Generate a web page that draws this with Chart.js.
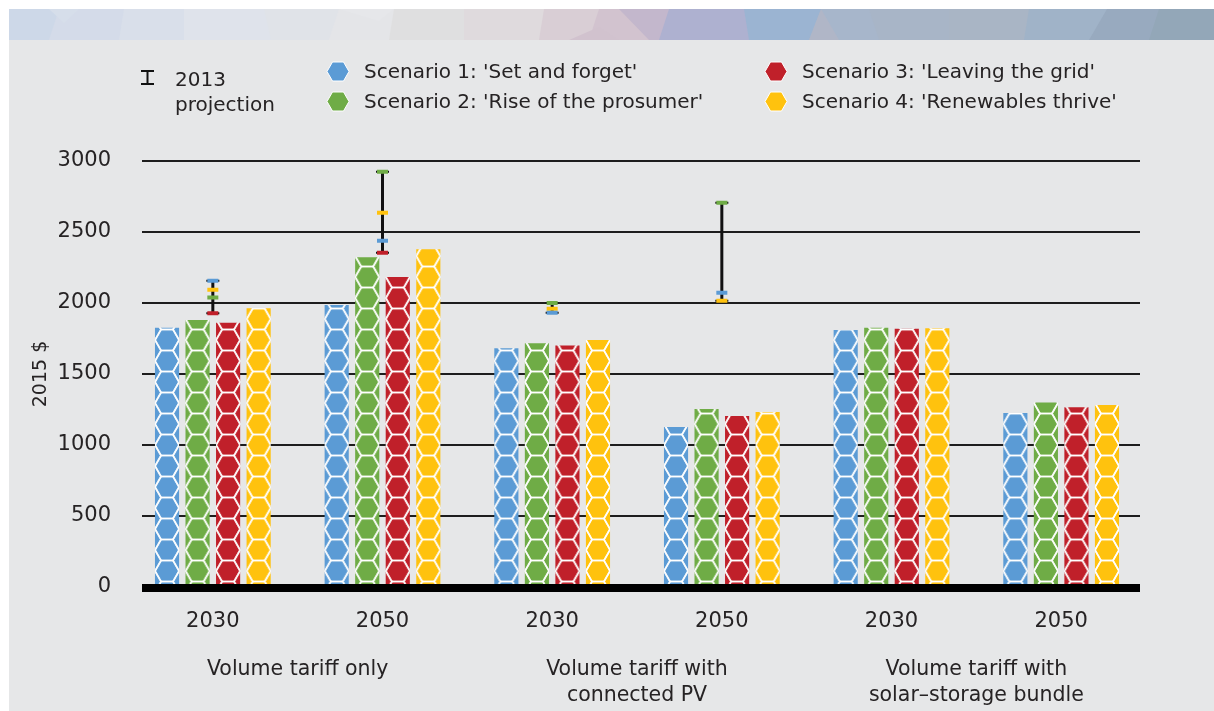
<!DOCTYPE html>
<html lang="en">
<head>
<meta charset="UTF-8">
<title>Annual bill by scenario</title>
<script src="https://cdn.jsdelivr.net/npm/chart.js"></script>
<style>
  body { margin: 0; background: #fff; font-family: "DejaVu Sans", sans-serif; color: #262324; }
  #panel { position: absolute; left: 9px; top: 9px; width: 1205px; height: 702px; background: #E6E7E8; }
  #banner { position: absolute; left: 0; top: 0; }
  #chart { position: absolute; left: 0; top: 0; }
  .lg { position: absolute; font-size: 20px; line-height: 24px; white-space: nowrap; }
  .ico { position: absolute; }
</style>
</head>
<body>
<div id="panel">
  <svg id="banner" width="1205" height="31"></svg>
</div>
<canvas id="chart" width="1214" height="711"></canvas>

<!-- legend -->
<svg class="ico" style="left:141px;top:70px" width="13" height="15">
  <rect x="0" y="0" width="13" height="2" fill="#111"/>
  <rect x="5.5" y="0" width="2" height="15" fill="#111"/>
  <rect x="0" y="13" width="13" height="2" fill="#111"/>
</svg>
<div class="lg" style="left:175px;top:67px">2013</div>
<div class="lg" style="left:175px;top:92px">projection</div>
<div id="legendItems"></div>

<script>
// categories
const years = ['2030', '2050', '2030', '2050', '2030', '2050'];
const tariffGroups = [
  ['Volume tariff only'],
  ['Volume tariff with', 'connected PV'],
  ['Volume tariff with', 'solar–storage bundle']
];

// 2015 $ per scenario
const setAndForget     = [1826, 1986, 1681, 1127, 1810, 1225];
const riseOfProsumer   = [1880, 2322, 1716, 1254, 1826, 1300];
const leavingTheGrid   = [1861, 2183, 1700, 1204, 1819, 1265];
const renewablesThrive = [1963, 2378, 1739, 1232, 1822, 1282];

// 2013 projection markers
const proj1 = [2157, 2439, 1932, 2072, null, null];
const proj2 = [2038, 2925, 2000, 2706, null, null];
const proj3 = [1927, 2354, null, null, null, null];
const proj4 = [2094, 2636, 1960, 2016, null, null];
const projLow  = [1927, 2354, 1932, 2016, null, null];
const projHigh = [2157, 2925, 2000, 2706, null, null];

const scenarioNames = [
  "Scenario 1: 'Set and forget'",
  "Scenario 2: 'Rise of the prosumer'",
  "Scenario 3: 'Leaving the grid'",
  "Scenario 4: 'Renewables thrive'"
];
const colors = ['#5B9BD5', '#6FAC46', '#C0202A', '#FFC20E'];

const CAT_PCT = 0.72;
const FONT = '"DejaVu Sans", sans-serif';
const TEXT = '#262324';

// faceted banner strip
const facets = [
  [0, 70, 55, 0, '#CDD8E8'], [50, 120, 115, 40, '#D4DBE9'], [115, 175, 175, 110, '#D9DFEA'],
  [175, 255, 262, 175, '#DFE3EB'], [255, 330, 320, 262, '#E0E3E8'], [330, 385, 380, 320, '#E4E5E8'],
  [385, 455, 455, 380, '#DFDFE0'], [455, 535, 530, 455, '#DFDADD'], [535, 610, 590, 530, '#D9CED5'],
  [590, 612, 640, 580, '#D2C3CF'], [610, 660, 650, 640, '#C3B7CC'], [660, 735, 740, 650, '#AEB1D0'],
  [735, 812, 800, 740, '#9BB4D2'], [812, 860, 870, 800, '#A7B6CB'], [860, 940, 940, 870, '#A8B5C7'],
  [940, 1020, 1015, 940, '#A9B5C5'], [1020, 1098, 1080, 1015, '#A0B3C8'], [1098, 1150, 1140, 1080, '#98AABF'],
  [1150, 1205, 1205, 1140, '#93A7B8']
];
const banner = document.getElementById('banner');
banner.innerHTML = facets.map(f =>
  `<polygon points="${f[0]},0 ${f[1] + 2},0 ${f[2] + 2},31 ${f[3]},31" fill="${f[4]}"/>`).join('') +
  '<polygon points="40,0 70,0 55,14" fill="#D6DEEA"/><polygon points="330,0 385,0 370,12" fill="#E6E7EA"/>' +
  '<polygon points="560,31 590,18 610,31" fill="#D1C2CE"/><polygon points="812,0 830,31 800,31" fill="#B0B6C7"/>';

// legend entries
function hexSvg(color) {
  return `<svg width="24" height="21"><polygon points="1,10.5 6.5,1 17.5,1 23,10.5 17.5,20 6.5,20"
    fill="${color}" stroke="#fff" stroke-width="1"/></svg>`;
}
const legendPos = [[326, 61, 364, 59], [326, 91, 364, 89], [764, 61, 802, 59], [764, 91, 802, 89]];
document.getElementById('legendItems').innerHTML = scenarioNames.map((name, i) => {
  const p = legendPos[i];
  return `<div class="ico" style="left:${p[0]}px;top:${p[1]}px">${hexSvg(colors[i])}</div>` +
         `<div class="lg" style="left:${p[2]}px;top:${p[3]}px">${name}</div>`;
}).join('');

// honeycomb tile for the bars
function hexTile(color) {
  const w = 36, h = 21, s = 12;
  const c = document.createElement('canvas');
  c.width = w; c.height = h;
  const g = c.getContext('2d');
  g.fillStyle = color;
  g.fillRect(0, 0, w, h);
  g.strokeStyle = 'rgba(255,255,255,0.95)';
  g.lineWidth = 1.6;
  const centers = [[0, 0], [36, 0], [0, 21], [36, 21], [18, 10.5], [18, -10.5], [18, 31.5]];
  for (const [cx, cy] of centers) {
    g.beginPath();
    g.moveTo(cx - s, cy);
    g.lineTo(cx - s / 2, cy - h / 2);
    g.lineTo(cx + s / 2, cy - h / 2);
    g.lineTo(cx + s, cy);
    g.lineTo(cx + s / 2, cy + h / 2);
    g.lineTo(cx - s / 2, cy + h / 2);
    g.closePath();
    g.stroke();
  }
  return c;
}
const tiles = colors.map(hexTile);

// one pattern per bar, shifted so a hexagon sits centred in the bar
function hexFill(k) {
  return ctx => {
    const xs = ctx.chart.scales && ctx.chart.scales.x;
    if (ctx.type !== 'data' || !xs) return colors[k];
    const step = xs.getPixelForValue(1) - xs.getPixelForValue(0);
    const cx = xs.getPixelForValue(ctx.dataIndex) + (k - 1.5) * step * CAT_PCT / 4;
    const pat = ctx.chart.ctx.createPattern(tiles[k], 'repeat');
    pat.setTransform(new DOMMatrix([1, 0, 0, 1, cx, 4]));
    return pat;
  };
}

const series = [setAndForget, riseOfProsumer, leavingTheGrid, renewablesThrive];
const projections = [proj1, proj2, proj3, proj4];

const barSets = series.map((d, k) => ({
  type: 'bar', label: scenarioNames[k], data: d, order: 3,
  backgroundColor: hexFill(k), borderWidth: 0,
  categoryPercentage: CAT_PCT, barPercentage: 0.79
}));

const whisker = {
  type: 'bar', label: '2013 projection range', order: 2,
  data: projLow.map((lo, i) => lo == null ? null : [lo, projHigh[i]]),
  grouped: false, maxBarThickness: 3, backgroundColor: '#111', borderWidth: 0
};

const caps = [projLow, projHigh].map(d => ({
  type: 'line', data: d, order: 1, showLine: false,
  pointStyle: 'line', pointRadius: 6.5, pointHoverRadius: 6.5,
  pointBorderWidth: 2, pointBorderColor: '#111', borderColor: '#111'
}));

const markers = projections.map((d, k) => ({
  type: 'line', data: d, order: 0, showLine: false,
  pointStyle: 'line', pointRadius: 5.5, pointHoverRadius: 5.5,
  pointBorderWidth: 4, pointBorderColor: colors[k], borderColor: colors[k]
}));

// horizontal rules behind the bars, heavy baseline on top
const rules = {
  id: 'rules',
  beforeDatasetsDraw(chart) {
    const { ctx, chartArea: a, scales: { y } } = chart;
    ctx.save();
    ctx.strokeStyle = '#1d1d1d';
    ctx.lineWidth = 2;
    y.ticks.forEach(t => {
      if (t.value === 0) return;
      const py = Math.round(y.getPixelForValue(t.value));
      ctx.beginPath();
      ctx.moveTo(a.left + 14, py);
      ctx.lineTo(a.right - 6, py);
      ctx.stroke();
    });
    ctx.restore();
  },
  afterDatasetsDraw(chart) {
    const { ctx, chartArea: a, scales: { y } } = chart;
    const py = y.getPixelForValue(0);
    ctx.save();
    ctx.fillStyle = '#000';
    ctx.fillRect(a.left + 14, py - 3, a.right - a.left - 20, 8);
    ctx.restore();
  }
};

new Chart(document.getElementById('chart'), {
  type: 'bar',
  data: { labels: years, datasets: [...markers, ...caps, whisker, ...barSets] },
  plugins: [rules],
  options: {
    responsive: false,
    animation: false,
    events: [],
    layout: { padding: { top: 161, right: 68, bottom: 0, left: 0 } },
    plugins: { legend: { display: false }, tooltip: { enabled: false } },
    scales: {
      x: {
        type: 'category', position: 'bottom', offset: true,
        grid: { display: false }, border: { display: false },
        ticks: { color: TEXT, padding: 14, font: { family: FONT, size: 21 } },
        afterFit(s) { s.height = 50; }
      },
      x2: {
        type: 'category', position: 'bottom', offset: true, display: true,
        labels: tariffGroups,
        grid: { display: false }, border: { display: false },
        ticks: { color: TEXT, padding: 12, maxRotation: 0, autoSkip: false,
                 font: { family: FONT, size: 20.5, lineHeight: 1.27 } },
        afterFit(s) { s.height = 74; }
      },
      y: {
        min: 0, max: 3000,
        grid: { display: false }, border: { display: false },
        ticks: { stepSize: 500, color: TEXT, padding: 9, font: { family: FONT, size: 21 },
                 callback: v => String(v) },
        title: { display: true, text: '2015 $', color: TEXT, padding: { top: 30, bottom: 0 },
                 font: { family: FONT, size: 19 } },
        afterFit(s) { s.width = 128; }
      }
    }
  }
});
</script>
</body>
</html>
